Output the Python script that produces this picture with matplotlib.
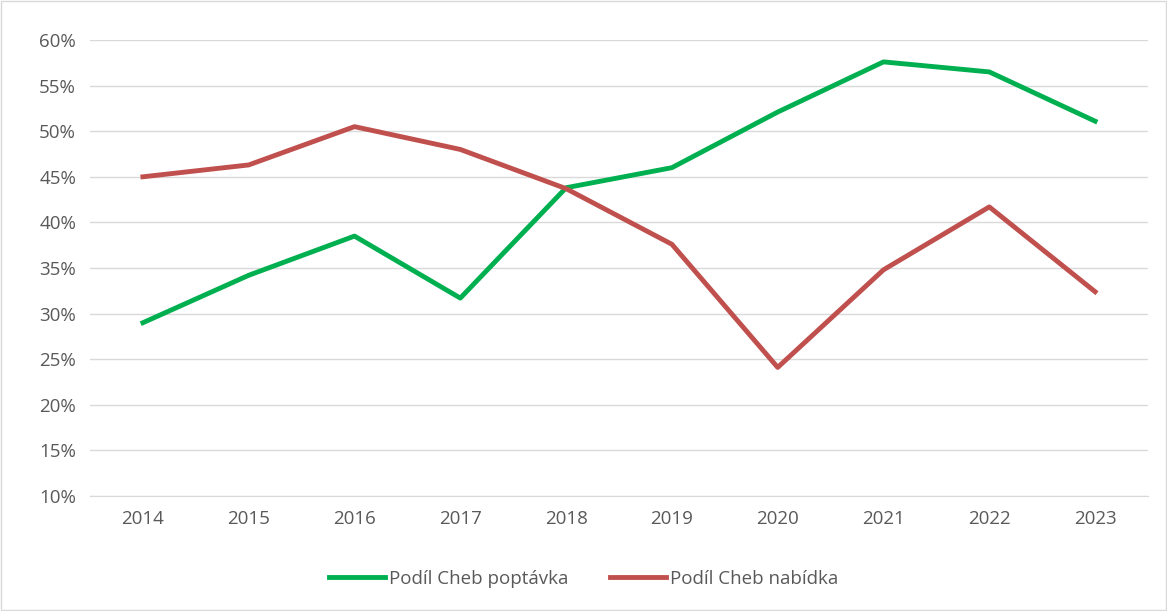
import numpy as np
import matplotlib.pyplot as plt
from matplotlib.ticker import MultipleLocator, PercentFormatter

years = ['2014', '2015', '2016', '2017', '2018', '2019', '2020', '2021', '2022', '2023']
poptavka = [29.0, 34.2, 38.5, 31.7, 43.8, 46.0, 52.1, 57.6, 56.5, 51.1]
nabidka = [45.0, 46.3, 50.5, 48.0, 43.7, 37.6, 24.1, 34.8, 41.7, 32.4]

plt.rcParams['font.family'] = ['Open Sans', 'DejaVu Sans']

fig = plt.figure(figsize=(11.67, 6.11), dpi=100)
ax = fig.add_axes([90 / 1167, 1 - 496 / 611, (1148 - 90) / 1167, (496 - 40) / 611])

x = np.arange(len(years))
ax.plot(x, poptavka, color='#00B050', linewidth=3.5, label='Podíl Cheb poptávka')
ax.plot(x, nabidka, color='#C0504D', linewidth=3.5, label='Podíl Cheb nabídka')

ax.set_xlim(-0.5, len(years) - 0.5)
ax.set_ylim(10, 60)
ax.yaxis.set_major_locator(MultipleLocator(5))
ax.yaxis.set_major_formatter(PercentFormatter(decimals=0))
ax.set_xticks(x)
ax.set_xticklabels(years)
ax.grid(axis='y', color='#D9D9D9', linewidth=1)
ax.set_axisbelow(True)
for s in ['top', 'right', 'left']:
    ax.spines[s].set_visible(False)
ax.spines['bottom'].set_color('#D9D9D9')
ax.tick_params(length=0, labelsize=13.5, colors='#595959', pad=10)

fig.legend(loc='lower center', bbox_to_anchor=(0.5, 0.01), ncol=2, frameon=False,
           fontsize=13.5, labelcolor='#595959', handlelength=3, handletextpad=0.2,
           columnspacing=2.2)

border = plt.Rectangle((0.001, 0.001), 0.998, 0.998, transform=fig.transFigure,
                       fill=False, edgecolor='#D9D9D9', linewidth=1)
fig.add_artist(border)

fig.savefig('out.png', dpi=100)
